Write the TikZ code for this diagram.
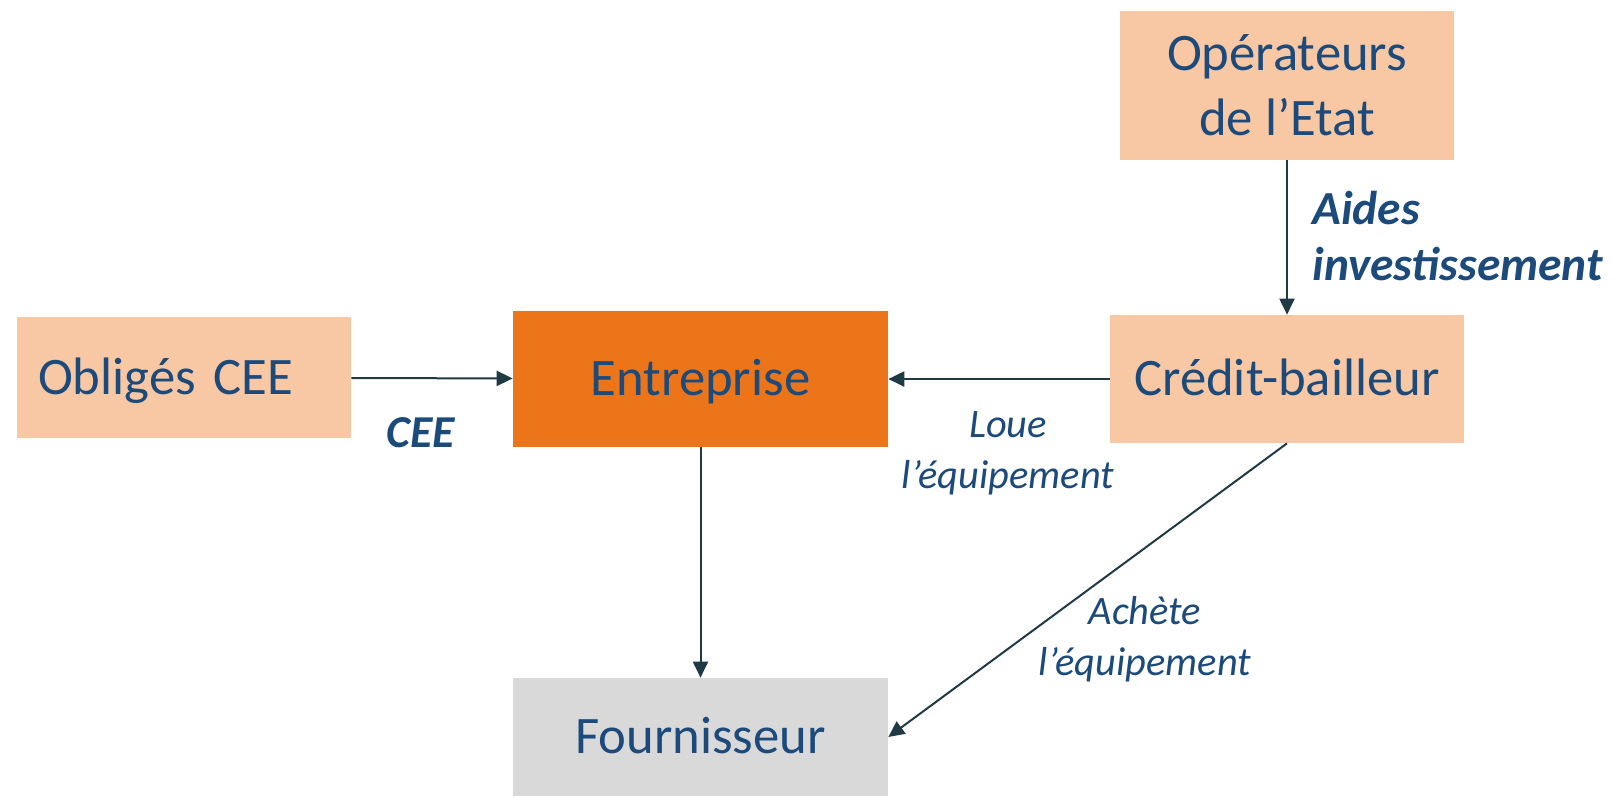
\documentclass[tikz,border=0pt]{standalone}
\usepackage{fontspec}
\setmainfont{Carlito}
\usetikzlibrary{arrows.meta}
\definecolor{peach}{HTML}{F8C8A5}
\definecolor{orangebox}{HTML}{EC7519}
\definecolor{greybox}{HTML}{D9D9D9}
\definecolor{textblue}{HTML}{1B4A7B}
\definecolor{arrowdark}{HTML}{1F3A45}

\begin{document}
\begin{tikzpicture}[x=0.02cm, y=-0.02cm,
        every node/.style={text=textblue, inner sep=0pt},
        box/.style={align=center, font=\fontsize{30}{37}\selectfont},
        oneline/.style={text height=27pt, text depth=7.8pt},
        lbl/.style={align=center, font=\fontsize{23}{29}\selectfont\itshape},
        flow/.style={->, draw=arrowdark, line width=0.04cm},
        >={Triangle[length=0.32cm, width=0.3cm]}]
            \useasboundingbox (0, 0) rectangle (1612, 796);
            \draw (184, 377.5) node[box, oneline, fill=peach, minimum height=2.42cm, text width=5.84cm, inner xsep=0.42cm, align=left](obl){Obligés CEE};
            \draw (700.5, 379) node[box, oneline, fill=orangebox, minimum width=7.5cm, minimum height=2.72cm](ent){Entreprise};
            \draw (1287, 379) node[box, oneline, fill=peach, minimum width=7.08cm, minimum height=2.56cm](cred){Crédit-bailleur};
            \draw (1287, 85.5) node[box, fill=peach, minimum width=6.68cm, minimum height=2.98cm](op){Opérateurs\\de l’Etat};
            \draw (700.5, 737) node[box, oneline, fill=greybox, minimum width=7.5cm, minimum height=2.36cm](four){Fournisseur};
            \draw[flow] (obl) -- (ent);
            \draw[flow] (cred) -- (ent);
            \draw[flow] (op) -- (cred);
            \draw[flow] (ent) -- (four);
            \draw[flow] (cred.south) -- (four.east);
            % labels
            \draw (421, 447) node[anchor=base, font=\fontsize{26}{31}\selectfont\bfseries\itshape](cee){CEE};
            \draw (1008, 453) node[lbl](loue){Loue\\l’équipement};
            \draw (1145, 639) node[lbl](achete){Achète\\l’équipement};
            \draw (1312, 236) node[anchor=west, align=left, font=\fontsize{27}{32.3}\selectfont\bfseries\itshape](aides){Aides\\investissement};
\end{tikzpicture}
\end{document}
